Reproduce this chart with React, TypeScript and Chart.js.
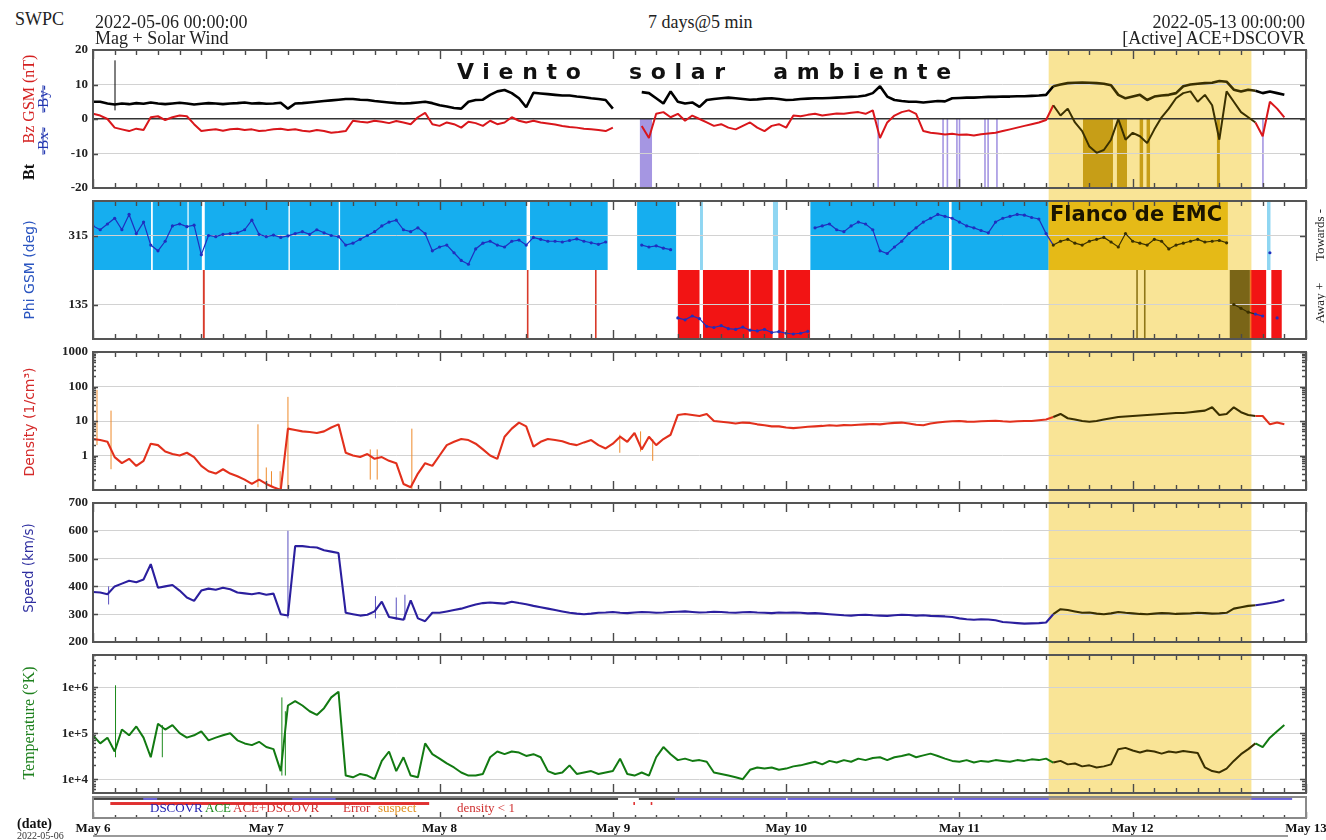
import { useEffect, useRef } from 'react';
import { Chart, registerables } from 'chart.js';

Chart.register(...registerables);

// ---------------- time axis (days since 2022-05-06 00:00, hourly samples)
const T_DAYS: number[] = Array.from({ length: 168 }, (_, i) => i / 24);
const DAY_TICKS = [0, 1, 2, 3, 4, 5, 6, 7];
const DAY_LABELS = ['May 6', 'May 7', 'May 8', 'May 9', 'May 10', 'May 11', 'May 12', 'May 13'];
const HIGHLIGHT_RANGE = [5.515, 6.685];

// ---------------- series (hourly)
const BT = [
  5, 5, 4.5, 4.2, 4.5, 4.3, 4.6, 4.4, 4.8, 4.5, 4.3, 4.5,
  4.7, 4.5, 4.2, 4.4, 4.6, 4.5, 4.3, 4.5, 4.6, 4.8, 4.5, 4.6,
  4.4, 4.5, 4.7, 3.0, 4.5, 4.6, 4.8, 5.0, 5.2, 5.4, 5.6, 5.8,
  5.8, 5.6, 5.5, 5.2, 5.0, 4.8, 4.6, 4.5, 4.6, 4.8, 5.0, 4.6,
  4.0, 3.6, 3.2, 3.0, 5.0, 5.5, 5.6, 7.0, 8.0, 8.4, 7.5, 6.0,
  3.4, 7.6, 7.4, 7.2, 7.0, 6.8, 6.8, 6.5, 6.3, 6.0, 5.8, 5.5,
  3.0, null, null, null, 7.8, 7.5, 6.0, 4.5, 8.0, 5.0, 4.5, 4.8,
  3.5, 5.5, 5.8, 6.0, 6.2, 6.0, 5.8, 5.6, 5.7, 5.9, 6.0, 5.8,
  5.5, 5.6, 5.8, 5.9, 6.0, 6.0, 6.1, 6.2, 6.3, 6.4, 6.5, 6.8,
  7.5, 9.5, 6.5, 5.5, 5.2, 5.0, 5.0, 4.8, 5.0, 5.2, 5.1, 6.0,
  6.1, 6.2, 6.2, 6.3, 6.4, 6.4, 6.5, 6.5, 6.6, 6.6, 6.7, 6.8,
  7.0, 9.5, 10.0, 10.4, 10.5, 10.6, 10.5, 10.4, 10.2, 9.8, 7.0, 6.0,
  6.5, 7.0, 5.5, 6.5, 6.8, 7.0, 7.5, 9.5, 10.0, 10.2, 10.4, 10.5,
  11.0, 10.8, 8.5, 8.0, 8.5, 8.2, 7.5, 8.0, 7.5, 7.0, null, null,
];
const BZ = [
  1.5, 1.0, 0.0, -2.5, -3.0, -3.5, -2.8, -3.2, 0.5, 0.8, -0.3, 0.5,
  1.0, 0.8, -1.5, -3.5, -3.2, -3.0, -3.4, -3.0, -2.8, -3.2, -3.0, -3.5,
  -3.3, -3.0, -2.8, -3.2, -3.0, -3.4, -3.6, -3.2, -3.5, -4.0, -3.8, -3.5,
  -0.5, -0.8, -1.0, -0.5, -0.8, -1.2, -0.6, -1.0, -1.5, 0.5, 1.8, -1.5,
  -2.0, -1.0, -1.5, -2.5, -0.8, -1.2, -2.0, -0.5, -1.5, -1.0, 0.5, -0.5,
  -1.0, -0.5, -1.0, -1.3, -1.6, -2.0, -2.3, -2.5, -2.8, -3.0, -3.2, -3.5,
  -2.5, null, null, null, -2.0, -5.5, 1.5, 2.0, 0.5, 1.5, -0.5, 1.0,
  0.0, -1.0, -2.0, -1.5, -2.5, -3.0, -2.0, -1.0, -2.5, -3.5, -2.0, -1.5,
  -2.5, 1.0, 0.8, 1.2, 1.5, 1.0, 1.3, 1.6, 1.5, 1.8, 2.0, 1.5,
  2.5, -5.5, -1.0, 1.0, 2.0, 2.5, 1.5, -3.5, -4.0, -4.2, -4.5, -4.3,
  -4.6, -4.5, -4.8, -4.4, -4.2, -4.0, -3.5, -3.0, -2.5, -2.0, -1.5, -1.0,
  -0.3, 4.0, 1.0, 3.0, -1.0, -3.5, -8.0, -9.8, -9.0, -6.0, 0.0, -6.0,
  -4.0, -5.0, -7.0, -3.0, 0.5, 3.0, 6.0, 7.5, 8.0, 5.0, 7.0, 4.0,
  -6.0, 8.0, 5.0, 2.0, 0.5, -1.0, -5.0, 5.0, 3.0, 0.5, null, null,
];
const PHI = [
  340, 330, 345, 360, 330, 370, 320, 350, 290, 275, 300, 340,
  345, 338, 342, 265, 315, 312, 318, 320, 322, 330, 355, 318,
  312, 316, 310, 314, 320, 325, 318, 330, 322, 315, 312, 290,
  295, 305, 315, 325, 340, 350, 355, 330, 325, 335, 320, 275,
  285, 290, 270, 250, 240, 280, 295, 300, 290, 285, 300, 303,
  290, 310, 305, 300, 300, 298, 302, 306, 300, 296, 292, 298,
  null, null, null, null, 290, 285, 288, 282, 278, 100, 95, 105,
  98, 78, 75, 80, 72, 70, 76, 68, 66, 70, 62, 64,
  60, 58, 60, 65, 335, 340, 345, 330, 325, 340, 350, 345,
  330, 275, 268, 285, 300, 320, 335, 350, 360, 370, 365, 360,
  350, 340, 335, 328, 322, 350, 360, 365, 370, 368, 362, 358,
  320, 290, 300, 305, 295, 290, 300, 305, 310, 298, 285, 320,
  300, 295, 290, 305, 300, 280, 290, 295, 300, 305, 298, 300,
  302, 296, 135, 125, 115, 110, 105, 270, 100, null, null, null,
];
const DENSITY = [
  3.0, 2.8, 2.5, 0.9, 0.6, 0.8, 0.5, 0.7, 2.2, 2.0, 1.3, 1.1,
  1.0, 1.2, 0.9, 0.5, 0.35, 0.3, 0.4, 0.3, 0.25, 0.2, 0.15, 0.2,
  0.15, 0.12, 0.1, 6.0, 5.5, 5.0, 4.8, 4.5, 5.0, 6.5, 8.0, 1.2,
  1.0, 0.9, 1.1, 0.8, 0.9, 0.7, 0.6, 0.15, 0.12, 0.3, 0.6, 0.5,
  1.0, 2.0, 2.5, 3.0, 2.8, 2.2, 1.5, 1.0, 0.8, 3.5, 6.0, 9.0,
  7.0, 1.8, 2.5, 3.0, 2.8, 2.6, 2.2, 2.0, 2.4, 2.8, 2.0, 1.6,
  2.2, 3.5, 2.5, 4.5, 1.5, 3.5, 2.0, 3.0, 4.0, 15, 16, 15,
  14, 16, 10, 9.5, 9.0, 8.5, 9.0, 8.8, 8.0, 7.5, 7.0, 7.0,
  6.5, 6.2, 6.5, 6.8, 7.0, 7.2, 7.5, 7.3, 7.6, 7.5, 7.8, 8.0,
  8.2, 8.0, 8.5, 8.8, 9.0, 8.5, 7.8, 7.5, 8.5, 9.0, 9.5, 9.8,
  10, 9.6, 9.5, 9.8, 10, 10.2, 9.8, 9.5, 9.8, 10, 10, 10.5,
  11, 13, 16, 12, 11, 10, 9.5, 10, 11, 12, 13, 13.5,
  14, 14.5, 15, 15.5, 16, 16.5, 17, 17, 18, 19, 20, 25,
  15, 16, 25, 18, 15, 14, 14, 8, 9, 8, null, null,
];
const SPEED = [
  380, 378, 372, 400, 410, 420, 415, 425, 480, 395, 400, 405,
  385, 360, 348, 385, 392, 388, 395, 390, 378, 375, 372, 376,
  370, 374, 300, 295, 545, 545, 542, 540, 530, 525, 520, 305,
  300, 295, 298, 310, 345, 290, 285, 280, 350, 285, 275, 305,
  305, 310, 315, 320, 328, 335, 340, 342, 340, 338, 345, 340,
  336, 330, 325, 320, 315, 310, 305, 302, 300, 302, 305, 306,
  308, 305, 304, 306, 308, 307, 305, 306, 308, 309, 310, 308,
  306, 307, 309, 308, 306, 305, 307, 308, 306, 305, 304, 306,
  305, 306, 305, 303, 304, 302, 300, 298, 296, 295, 297, 298,
  296, 295, 294, 296, 298, 297, 295, 296, 294, 293, 292, 290,
  285, 282, 280, 282, 281, 278, 272, 270, 268, 266, 267, 268,
  270, 300, 318, 315, 310, 305, 306, 302, 300, 303, 308, 305,
  303, 301, 300, 302, 304, 303, 301, 302, 303, 305, 304, 302,
  303, 305, 320, 325, 330, 332, 336, 340, 345, 352, null, null,
];
const TEMPERATURE = [
  9e4, 6e4, 8e4, 4e4, 1.2e5, 9e4, 1.4e5, 8e4, 3e4, 1.6e5, 1.2e5, 1.5e5,
  1e5, 8e4, 9e4, 1.1e5, 7e4, 8e4, 9e4, 1e5, 7e4, 6e4, 5.5e4, 6.5e4,
  5e4, 4.5e4, 1.5e4, 4e5, 5e5, 4e5, 3e5, 2.5e5, 3.5e5, 6e5, 8e5, 1.2e4,
  1.1e4, 1.3e4, 1.2e4, 1e4, 2.5e4, 4e4, 1.5e4, 3e4, 1.2e4, 1.1e4, 6e4, 3.5e4,
  2.8e4, 2.2e4, 1.8e4, 1.4e4, 1.2e4, 1.2e4, 1.3e4, 3e4, 4e4, 3.5e4, 4e4, 3.8e4,
  3.2e4, 3.5e4, 3e4, 1.5e4, 1.3e4, 1.4e4, 2e4, 1.3e4, 1.4e4, 1.5e4, 1.3e4, 1.4e4,
  1.5e4, 2.8e4, 1.3e4, 1.2e4, 1.4e4, 1.2e4, 3e4, 5e4, 3.5e4, 2.6e4, 2.8e4, 2.5e4,
  2.6e4, 2.4e4, 1.4e4, 1.3e4, 1.2e4, 1.1e4, 1e4, 1.6e4, 1.8e4, 1.7e4, 1.8e4, 1.6e4,
  1.7e4, 1.9e4, 2e4, 2.2e4, 2.4e4, 2.1e4, 2.5e4, 2.3e4, 2.6e4, 2.4e4, 2.8e4, 2.6e4,
  2.9e4, 3e4, 2.6e4, 3e4, 3.2e4, 3.5e4, 3e4, 3.3e4, 3.6e4, 3.2e4, 2.8e4, 2.5e4,
  2.4e4, 2.6e4, 2.3e4, 2.5e4, 2.4e4, 2.6e4, 2.5e4, 2.4e4, 2.6e4, 2.5e4, 2.7e4, 2.6e4,
  2.8e4, 2.3e4, 2.5e4, 2.1e4, 2.2e4, 1.9e4, 2e4, 1.8e4, 1.9e4, 2.1e4, 4.5e4, 4.8e4,
  4.2e4, 3.8e4, 4.2e4, 4e4, 3.6e4, 4e4, 3.8e4, 4.1e4, 3.9e4, 3.7e4, 1.8e4, 1.5e4,
  1.4e4, 1.7e4, 2.5e4, 3.5e4, 4.5e4, 6e4, 5e4, 8e4, 1.1e5, 1.5e5, null, null,
];

// ---------------- short spikes [time, low, high]
const BT_SPIKE_T = [0.127];
const BT_SPIKE_LO = [2.5];
const BT_SPIKE_HI = [17];
const DENS_SPIKE_T = [0.023, 0.104, 0.952, 1.0, 1.03, 1.08, 1.125, 1.6, 1.64, 1.84, 3.04, 3.16, 3.23];
const DENS_SPIKE_LO = [2, 0.4, 0.12, 0.12, 0.12, 0.1, 0.1, 0.2, 0.2, 0.1, 1.2, 1.3, 0.7];
const DENS_SPIKE_HI = [80, 20, 8, 0.45, 0.35, 0.35, 50, 1.5, 1.5, 6, 4, 5, 3];
const SPEED_SPIKE_T = [0.09, 1.125, 1.63, 1.75, 1.8];
const SPEED_SPIKE_LO = [335, 285, 285, 280, 280];
const SPEED_SPIKE_HI = [400, 600, 365, 360, 370];
const TEMP_SPIKE_T = [0.13, 0.4, 1.09, 1.11];
const TEMP_SPIKE_LO = [3e4, 3e4, 1.2e4, 1.2e4];
const TEMP_SPIKE_HI = [1.1e6, 1.5e5, 6e5, 3e5];

// ---------------- shaded intervals [start, end] in days
const BZ_SOUTH = [[3.156, 3.226], [4.528, 4.534], [4.903, 4.908], [4.928, 4.933], [4.983, 4.988], [4.998, 5.003], [5.145, 5.15], [5.163, 5.168], [5.214, 5.219], [6.749, 6.754]];
const BZ_SOUTH_HL = [[5.713, 5.886], [5.909, 5.967], [6.04, 6.06], [6.08, 6.1], [6.486, 6.503]];
const PHI_TOWARD = [[0, 0.335], [0.345, 0.545], [0.552, 0.628], [0.645, 1.128], [1.136, 1.418], [1.426, 2.502], [2.522, 2.97], [3.14, 3.365], [4.14, 4.94], [4.955, 5.515]];
const PHI_TOWARD_HL = [[5.515, 6.549]];
const PHI_TOWARD_LIGHT = [[3.503, 3.52], [3.924, 3.953], [6.775, 6.795]];
const PHI_AWAY = [[3.375, 3.5], [3.52, 3.785], [3.795, 3.922], [3.955, 3.99], [4.0, 4.138], [6.676, 6.77], [6.8, 6.86]];
const PHI_AWAY_HL = [[6.56, 6.676]];
const PHI_AWAY_LINES = [[0.634, 0.645], [2.505, 2.512], [2.9, 2.903]];
const PHI_HL_LINES = [[6.022, 6.028], [6.067, 6.072]];
const SRC_ACE = [[0, 3.03], [3.15, 3.36]];
const SRC_DSCOVR = [[0.29, 0.37], [1.15, 1.4], [3.36, 4.0], [4.008, 4.96], [4.968, 6.92]];
const FLAG_DENSITY = [[0.1, 1.94], [3.12, 3.126], [3.22, 3.226]];

const PHI_TICKS = [135, 315];
const DENS_TICKS = [1, 10, 100, 1000];
const TEMP_TICKS = [1e4, 1e5, 1e6];
const TEMP_TICK_LABELS = ['1e+4', '1e+5', '1e+6'];

// ---------------- styles
const HL_COLOR = 'rgba(243, 201, 45, 0.5)';
const HL_DARK = '#3a3000';
const SERIF = "'Liberation Serif', 'Times New Roman', serif";
const SANS = "'DejaVu Sans', sans-serif";
const TICK_FONT = { family: SERIF, size: 13, weight: 'bold' as const, lineHeight: 1 };

const LAYOUT = [
  { top: 44, height: 150, padTop: 6, padBottom: 6 },
  { top: 194, height: 151, padTop: 7, padBottom: 6 },
  { top: 345, height: 151, padTop: 7, padBottom: 6 },
  { top: 496, height: 153, padTop: 7, padBottom: 7 },
  { top: 649, height: 147, padTop: 6, padBottom: 3 },
  { top: 796, height: 44, padTop: 1, padBottom: 0 },
];

const inHL = (x: number) => x >= HIGHLIGHT_RANGE[0] && x <= HIGHLIGHT_RANGE[1];

type Band = { x0: number; x1: number; y0: number; y1: number; color: string };
const bandsOf = (r: number[][], y0: number, y1: number, color: string): Band[] =>
  r.map(([a, b]) => ({ x0: a, x1: b, y0, y1, color }));

type Decor = {
  bands: Band[];
  hlTop: 'canvas' | 'area';
  hlBottom: number | null;
  sideTicks: number[];
  logMinor: boolean;
  topTicks: boolean;
  tickLen: [number, number];
  frameColor: string;
  baseline?: boolean;
};

function makeDecor(d: Decor) {
  return {
    id: 'decor',
    beforeDraw(chart: any) {
      const { ctx, chartArea: a } = chart;
      const xs = chart.scales.x;
      const ys = chart.scales.y;
      ctx.save();
      ctx.beginPath();
      ctx.rect(a.left, a.top, a.right - a.left, a.bottom - a.top);
      ctx.clip();
      for (const b of d.bands) {
        let x0 = xs.getPixelForValue(b.x0);
        let x1 = xs.getPixelForValue(b.x1);
        if (x1 - x0 < 1.5) {
          const c = (x0 + x1) / 2;
          x0 = c - 0.8;
          x1 = c + 0.8;
        }
        const y0 = ys.getPixelForValue(b.y0);
        const y1 = ys.getPixelForValue(b.y1);
        ctx.fillStyle = b.color;
        ctx.fillRect(x0, Math.min(y0, y1), x1 - x0, Math.abs(y1 - y0));
      }
      ctx.restore();
      const hx0 = xs.getPixelForValue(HIGHLIGHT_RANGE[0]);
      const hx1 = xs.getPixelForValue(HIGHLIGHT_RANGE[1]);
      const top = d.hlTop === 'area' ? a.top : 0;
      const bottom = d.hlBottom === null ? chart.height : a.top + d.hlBottom;
      ctx.save();
      ctx.fillStyle = HL_COLOR;
      ctx.fillRect(hx0, top, hx1 - hx0, bottom - top);
      ctx.restore();
    },
    afterDraw(chart: any) {
      const { ctx, chartArea: a } = chart;
      const xs = chart.scales.x;
      const ys = chart.scales.y;
      ctx.save();
      ctx.strokeStyle = '#4a4a4a';
      ctx.lineWidth = 1.4;
      ctx.beginPath();
      for (let i = 0; i <= 56; i++) {
        const x = Math.round(xs.getPixelForValue(i / 8)) + 0.5;
        const len = i % 8 === 0 ? d.tickLen[1] : d.tickLen[0];
        if (d.topTicks) {
          ctx.moveTo(x, a.top);
          ctx.lineTo(x, a.top + len);
        }
        ctx.moveTo(x, a.bottom);
        ctx.lineTo(x, a.bottom - len);
      }
      for (const v of d.sideTicks) {
        const y = Math.round(ys.getPixelForValue(v)) + 0.5;
        ctx.moveTo(a.left, y);
        ctx.lineTo(a.left + 5, y);
        ctx.moveTo(a.right, y);
        ctx.lineTo(a.right - 6, y);
      }
      if (d.logMinor) {
        const lo = Math.floor(Math.log10(ys.min));
        const hi = Math.ceil(Math.log10(ys.max));
        for (let n = lo; n <= hi; n++) {
          for (let k = 2; k <= 9; k++) {
            const v = k * Math.pow(10, n);
            if (v <= ys.min || v >= ys.max) continue;
            const y = Math.round(ys.getPixelForValue(v)) + 0.5;
            ctx.moveTo(a.left, y);
            ctx.lineTo(a.left + 3, y);
            ctx.moveTo(a.right, y);
            ctx.lineTo(a.right - 4, y);
          }
        }
      }
      ctx.stroke();
      ctx.strokeStyle = d.frameColor;
      ctx.lineWidth = 2;
      ctx.strokeRect(a.left, a.top, a.right - a.left, a.bottom - a.top);
      if (d.baseline) {
        ctx.strokeStyle = '#9a9a9a';
        ctx.lineWidth = 2;
        ctx.beginPath();
        ctx.moveTo(a.left, a.bottom + 18);
        ctx.lineTo(a.right - 18, a.bottom + 18);
        ctx.stroke();
      }
      ctx.restore();
    },
  };
}

function lineDs(values: (number | null)[], color: string, width: number) {
  return {
    data: values.map((v, i) => ({ x: T_DAYS[i], y: v })),
    borderColor: color,
    borderWidth: width,
    pointRadius: 0,
    spanGaps: false,
    tension: 0,
    borderJoinStyle: 'bevel',
    segment: { borderColor: (c: any) => (inHL(c.p0.parsed.x) ? HL_DARK : undefined) },
  };
}

function spikeDs(ts: number[], lo: number[], hi: number[], color: string, width: number) {
  const data: any[] = [];
  ts.forEach((t, i) => {
    data.push({ x: t, y: lo[i] }, { x: t, y: hi[i] }, { x: t, y: null });
  });
  return {
    data,
    borderColor: color,
    borderWidth: width,
    pointRadius: 0,
    spanGaps: false,
    segment: { borderColor: (c: any) => (inHL(c.p0.parsed.x) ? HL_DARK : undefined) },
  };
}

function yAxis(extra: any) {
  return {
    position: 'left',
    border: { display: false },
    grid: {
      drawTicks: false,
      color: (c: any) => (c.tick && c.tick.value === 0 && extra.zeroDark ? '#333' : '#d2d2d2'),
      lineWidth: (c: any) => (c.tick && c.tick.value === 0 && extra.zeroDark ? 1.5 : 1),
    },
    ticks: { font: TICK_FONT, color: '#222', padding: 5, ...(extra.ticks || {}) },
    afterFit: (s: any) => {
      s.width = 93;
      s.paddingTop = 0;
      s.paddingBottom = 0;
    },
    ...extra.opts,
  };
}

function panelConfig(i: number, datasets: any[], y: any, decor: Decor) {
  const L = LAYOUT[i];
  return {
    type: 'line' as const,
    data: { datasets },
    options: {
      responsive: false,
      animation: false as const,
      devicePixelRatio: 1,
      events: [],
      layout: { padding: { left: 0, right: 20, top: L.padTop, bottom: L.padBottom } },
      plugins: { legend: { display: false }, tooltip: { enabled: false } },
      scales: {
        x: { type: 'linear', min: 0, max: 7, display: false },
        y,
      },
    },
    plugins: [makeDecor(decor)],
  };
}

const baseDecor = {
  hlTop: 'canvas' as const,
  hlBottom: null,
  logMinor: false,
  topTicks: true,
  tickLen: [5, 9] as [number, number],
  frameColor: '#555',
};

function buildConfigs(): any[] {
  const bz = panelConfig(
    0,
    [lineDs(BT, '#000000', 2.6), lineDs(BZ, '#d9161b', 2), spikeDs(BT_SPIKE_T, BT_SPIKE_LO, BT_SPIKE_HI, '#000', 1)],
    yAxis({ zeroDark: true, opts: { min: -20, max: 20 }, ticks: { stepSize: 10 } }),
    {
      ...baseDecor,
      hlTop: 'area',
      bands: [...bandsOf(BZ_SOUTH, 0, -20, '#a596e2'), ...bandsOf(BZ_SOUTH_HL, 0, -20, '#9b7300')],
      sideTicks: [10, 0, -10],
    }
  );
  const phiDs = {
    data: PHI.map((v, i) => ({ x: T_DAYS[i], y: v })),
    borderColor: '#1f2fbf',
    borderWidth: 1.2,
    showLine: true,
    pointRadius: 1.6,
    pointBorderWidth: 0,
    pointBackgroundColor: (c: any) => (c.parsed && inHL(c.parsed.x) ? HL_DARK : '#1f2fbf'),
    spanGaps: false,
    segment: {
      borderColor: (c: any) =>
        Math.abs(c.p0.parsed.y - c.p1.parsed.y) > 100 ? 'rgba(0,0,0,0)' : inHL(c.p0.parsed.x) ? HL_DARK : undefined,
    },
  };
  const phi = panelConfig(
    1,
    [phiDs],
    yAxis({
      opts: {
        min: 45,
        max: 405,
        afterBuildTicks: (s: any) => {
          s.ticks = PHI_TICKS.map((v) => ({ value: v }));
        },
      },
    }),
    {
      ...baseDecor,
      bands: [
        ...bandsOf(PHI_TOWARD, 225, 405, '#16aeef'),
        ...bandsOf(PHI_TOWARD_HL, 225, 405, '#d7ab00'),
        ...bandsOf(PHI_TOWARD_LIGHT, 225, 405, '#8fd6f2'),
        ...bandsOf(PHI_AWAY, 45, 225, '#f21414'),
        ...bandsOf(PHI_AWAY_HL, 45, 225, '#000000'),
        ...bandsOf(PHI_AWAY_LINES, 45, 225, '#d83a2a'),
        ...bandsOf(PHI_HL_LINES, 45, 225, '#2a2200'),
      ],
      sideTicks: PHI_TICKS,
    }
  );
  const dens = panelConfig(
    2,
    [lineDs(DENSITY, '#e2301c', 2.1), spikeDs(DENS_SPIKE_T, DENS_SPIKE_LO, DENS_SPIKE_HI, '#ee8a2a', 1)],
    yAxis({
      opts: {
        type: 'logarithmic',
        min: 0.1,
        max: 1000,
        afterBuildTicks: (s: any) => {
          s.ticks = DENS_TICKS.map((v) => ({ value: v }));
        },
      },
      ticks: { callback: (v: any) => String(v) },
    }),
    { ...baseDecor, bands: [], sideTicks: DENS_TICKS, logMinor: true }
  );
  const speed = panelConfig(
    3,
    [lineDs(SPEED, '#2b1f9e', 2.1), spikeDs(SPEED_SPIKE_T, SPEED_SPIKE_LO, SPEED_SPIKE_HI, '#5a50c0', 1)],
    yAxis({ opts: { min: 200, max: 700 }, ticks: { stepSize: 100 } }),
    { ...baseDecor, bands: [], sideTicks: [300, 400, 500, 600] }
  );
  const temp = panelConfig(
    4,
    [lineDs(TEMPERATURE, '#127a12', 2), spikeDs(TEMP_SPIKE_T, TEMP_SPIKE_LO, TEMP_SPIKE_HI, '#1b8a1b', 1)],
    yAxis({
      opts: {
        type: 'logarithmic',
        min: 5012,
        max: 5.012e6,
        afterBuildTicks: (s: any) => {
          s.ticks = TEMP_TICKS.map((v) => ({ value: v }));
        },
      },
      ticks: { callback: (_v: any, i: number) => TEMP_TICK_LABELS[i] },
    }),
    { ...baseDecor, bands: [], sideTicks: TEMP_TICKS, logMinor: true }
  );
  const L = LAYOUT[5];
  const strip = {
    type: 'line' as const,
    data: { datasets: [] },
    options: {
      responsive: false,
      animation: false as const,
      devicePixelRatio: 1,
      events: [],
      layout: { padding: { left: 93, right: 20, top: L.padTop, bottom: L.padBottom } },
      plugins: { legend: { display: false }, tooltip: { enabled: false } },
      scales: {
        x: {
          type: 'linear',
          min: 0,
          max: 7,
          position: 'bottom',
          border: { display: false },
          grid: { display: false, drawTicks: false },
          afterBuildTicks: (s: any) => {
            s.ticks = DAY_TICKS.map((v) => ({ value: v }));
          },
          ticks: {
            font: TICK_FONT,
            color: '#111',
            padding: 4,
            maxRotation: 0,
            autoSkip: false,
            callback: (_v: any, i: number) => DAY_LABELS[i],
          },
          afterFit: (s: any) => {
            s.height = 22;
            s.paddingLeft = 0;
            s.paddingRight = 0;
          },
        },
        y: { display: false, min: 0, max: 1 },
      },
    },
    plugins: [
      makeDecor({
        bands: [
          ...bandsOf(SRC_ACE, 0.86, 1.0, '#444444'),
          ...bandsOf(SRC_DSCOVR, 0.86, 1.0, '#6a62d8'),
          ...bandsOf(FLAG_DENSITY, 0.62, 0.76, '#e03030'),
        ],
        hlTop: 'canvas',
        hlBottom: 3,
        sideTicks: [],
        logMinor: false,
        topTicks: false,
        tickLen: [3, 6],
        frameColor: '#8a8a8a',
        baseline: true,
      }),
    ],
  };
  return [bz, phi, dens, speed, temp, strip];
}

function VText({ x, y, children, style }: any) {
  return (
    <div
      style={{
        position: 'absolute',
        left: x,
        top: y,
        transform: 'translate(-50%, -50%) rotate(-90deg)',
        whiteSpace: 'nowrap',
        lineHeight: 1,
        ...style,
      }}
    >
      {children}
    </div>
  );
}

function Txt({ x, y, children, style }: any) {
  return (
    <div style={{ position: 'absolute', left: x, top: y, whiteSpace: 'pre', lineHeight: '18px', ...style }}>{children}</div>
  );
}

export default function App() {
  const refs = useRef<(HTMLCanvasElement | null)[]>([]);
  useEffect(() => {
    const cfgs = buildConfigs();
    const charts = cfgs.map((c, i) => new Chart(refs.current[i] as HTMLCanvasElement, c as any));
    return () => charts.forEach((c) => c.destroy());
  }, []);

  const head = { fontFamily: SERIF, fontSize: 18, color: '#222' };
  const leg = { fontFamily: SERIF, fontSize: 13, lineHeight: '13px' };
  return (
    <div style={{ position: 'absolute', left: 0, top: 0, width: 1326, height: 840, background: '#fff', overflow: 'hidden' }}>
      {LAYOUT.map((L, i) => (
        <canvas
          key={i}
          ref={(el) => {
            refs.current[i] = el;
          }}
          width={1326}
          height={L.height}
          style={{ position: 'absolute', left: 0, top: L.top, width: 1326, height: L.height }}
        />
      ))}

      <Txt x={15} y={10} style={head}>SWPC</Txt>
      <Txt x={95} y={13} style={head}>2022-05-06 00:00:00</Txt>
      <Txt x={95} y={29} style={head}>Mag + Solar Wind</Txt>
      <Txt x={648} y={13} style={head}>7 days@5 min</Txt>
      <Txt x={1005} y={13} style={{ ...head, width: 300, textAlign: 'right' }}>2022-05-13 00:00:00</Txt>
      <Txt x={1005} y={29} style={{ ...head, width: 300, textAlign: 'right' }}>[Active] ACE+DSCOVR</Txt>

      <div
        style={{
          position: 'absolute',
          left: 457,
          top: 61,
          fontFamily: SANS,
          fontWeight: 'bold',
          fontSize: 22,
          lineHeight: '22px',
          letterSpacing: '8.7px',
          wordSpacing: '23px',
          color: '#111',
          whiteSpace: 'nowrap',
        }}
      >
        Viento solar ambiente
      </div>
      <div
        style={{
          position: 'absolute',
          left: 1050,
          top: 204,
          fontFamily: SANS,
          fontWeight: 'bold',
          fontSize: 21,
          lineHeight: '21px',
          color: '#1a1400',
          whiteSpace: 'nowrap',
        }}
      >
        Flanco de EMC
      </div>

      <VText x={29} y={99} style={{ fontFamily: SERIF, fontSize: 16, color: '#d42020' }}>Bz GSM (nT)</VText>
      <VText x={29} y={172} style={{ fontFamily: SERIF, fontSize: 16, color: '#111', fontWeight: 'bold' }}>Bt</VText>
      <VText x={43} y={141} style={{ fontFamily: SERIF, fontSize: 15, color: '#2236b0', textDecoration: 'line-through' }}>-Bx-</VText>
      <VText x={43} y={99} style={{ fontFamily: SERIF, fontSize: 15, color: '#2236b0', textDecoration: 'line-through' }}>-By-</VText>
      <VText x={29} y={270} style={{ fontFamily: SANS, fontSize: 14, color: '#2a55c0' }}>Phi GSM (deg)</VText>
      <VText x={29} y={422} style={{ fontFamily: SANS, fontSize: 14, color: '#d42a2a' }}>Density (1/cm³)</VText>
      <VText x={29} y={568} style={{ fontFamily: SANS, fontSize: 13.5, color: '#3030a0' }}>Speed (km/s)</VText>
      <VText x={29} y={723} style={{ fontFamily: SERIF, fontSize: 16, color: '#1d801d' }}>Temperature (°K)</VText>
      <VText x={1319} y={235} style={{ fontFamily: SERIF, fontSize: 13, color: '#222' }}>Towards -</VText>
      <VText x={1319} y={303} style={{ fontFamily: SERIF, fontSize: 13, color: '#222' }}>Away +</VText>

      <Txt x={150} y={801} style={{ ...leg, color: '#2020b0' }}>DSCOVR</Txt>
      <Txt x={205} y={801} style={{ ...leg, color: '#1a8a1a' }}>ACE</Txt>
      <Txt x={233} y={801} style={{ ...leg, color: '#d03030' }}>ACE+DSCOVR</Txt>
      <Txt x={343} y={801} style={{ ...leg, color: '#d03030' }}>Error</Txt>
      <Txt x={378} y={801} style={{ ...leg, color: '#e09020' }}>suspect</Txt>
      <Txt x={457} y={801} style={{ ...leg, color: '#d03030' }}>density &lt; 1</Txt>

      <Txt x={17} y={817} style={{ fontFamily: SERIF, fontSize: 14, fontWeight: 'bold', color: '#111', lineHeight: '14px' }}>(date)</Txt>
      <Txt x={17} y={831} style={{ fontFamily: SERIF, fontSize: 10, color: '#333', lineHeight: '10px' }}>2022-05-06</Txt>
    </div>
  );
}
